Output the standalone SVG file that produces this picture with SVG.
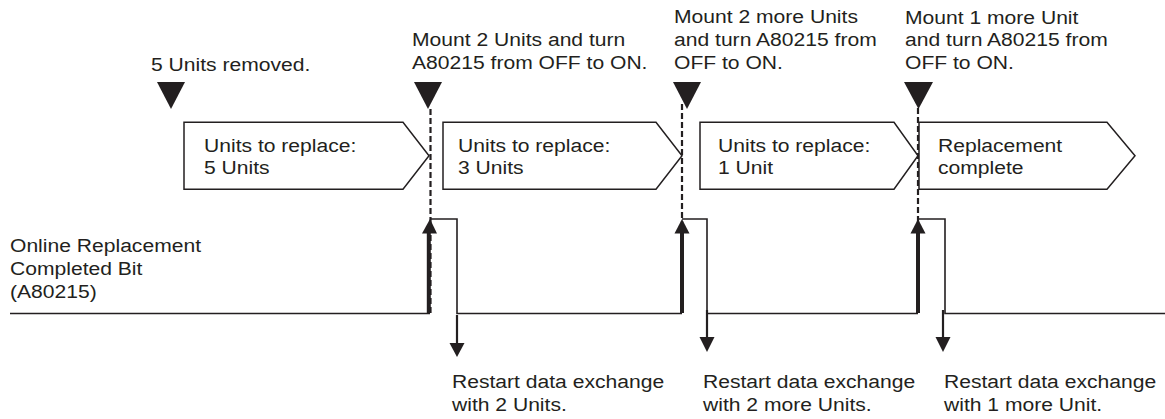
<svg xmlns="http://www.w3.org/2000/svg" width="1165" height="419" viewBox="0 0 1165 419">
<style>
.t{font-family:"Liberation Sans",Arial,sans-serif;font-size:19px;fill:#231f20}
.box{fill:#fff;stroke:#231f20;stroke-width:1.5}
.tri{fill:#231f20}
.dash{fill:none;stroke:#231f20;stroke-width:2.2;stroke-dasharray:6 3}
.sig{fill:none;stroke:#231f20;stroke-width:1.6}
.up{stroke:#231f20;stroke-width:4;fill:none}
.down{stroke:#231f20;stroke-width:2.2;fill:none}
.head{fill:#231f20}
</style>
<rect width="1165" height="419" fill="#fff"/>
<g id="connectors">
  <path class="sig" d="M10,313.5 H430 M430,219 H457 V313.5 H682 M682,219 H707 V313.5 H918 M918,219 H945 V313.5 H1165"/>
  <path class="dash" d="M430.5,109 V313 M682,104 V313 M918,108 V313"/>
  <line class="up" x1="428.8" y1="313" x2="428.8" y2="232"/>
  <polygon class="head" points="430,219 422,233.5 437,233.5"/>
  <line class="up" x1="682" y1="313" x2="682" y2="232"/>
  <polygon class="head" points="682,219 674.5,233.5 689.5,233.5"/>
  <line class="up" x1="918" y1="313" x2="918" y2="232"/>
  <polygon class="head" points="918,219 910.5,233.5 925.5,233.5"/>
  <line class="down" x1="457" y1="315" x2="457" y2="344"/>
  <polygon class="head" points="449.5,343 464.5,343 457,357"/>
  <line class="down" x1="707" y1="310" x2="707" y2="338"/>
  <polygon class="head" points="699.5,337 714.5,337 707,352"/>
  <line class="down" x1="943" y1="310" x2="943" y2="338"/>
  <polygon class="head" points="935.5,337 950.5,337 943,352"/>
</g>
<g id="event-removed">
  <polygon class="tri" points="157,82 185,82 171,109"/>
  <text class="t" transform="translate(151,70.5) scale(1.11,1)">5 Units removed.</text>
</g>
<g id="event-mount2">
  <polygon class="tri" points="414,82 442,82 428,109"/>
  <text class="t" transform="translate(412,46) scale(1.11,1)"><tspan x="0" y="0">Mount 2 Units and turn</tspan><tspan x="0" y="23">A80215 from OFF to ON.</tspan></text>
</g>
<g id="event-mount2more">
  <polygon class="tri" points="673,82 701,82 687,109"/>
  <text class="t" transform="translate(674,23) scale(1.11,1)"><tspan x="0" y="0">Mount 2 more Units</tspan><tspan x="0" y="23">and turn A80215 from</tspan><tspan x="0" y="46">OFF to ON.</tspan></text>
</g>
<g id="event-mount1more">
  <polygon class="tri" points="904,82 933,82 918.5,109"/>
  <text class="t" transform="translate(905,23.5) scale(1.11,1)"><tspan x="0" y="0">Mount 1 more Unit</tspan><tspan x="0" y="23">and turn A80215 from</tspan><tspan x="0" y="46">OFF to ON.</tspan></text>
</g>
<g id="state-5">
  <path class="box" d="M184,122.3 H403 L429,155.7 L403,189.3 H184 Z"/>
  <text class="t" transform="translate(204,151.5) scale(1.11,1)"><tspan x="0" y="0">Units to replace:</tspan><tspan x="0" y="23">5 Units</tspan></text>
</g>
<g id="state-3">
  <path class="box" d="M443,122.3 H656 L682,155.7 L656,189.3 H443 Z"/>
  <text class="t" transform="translate(458,151.5) scale(1.11,1)"><tspan x="0" y="0">Units to replace:</tspan><tspan x="0" y="23">3 Units</tspan></text>
</g>
<g id="state-1">
  <path class="box" d="M700,122.3 H894 L918,155.7 L894,189.3 H700 Z"/>
  <text class="t" transform="translate(718,151.5) scale(1.11,1)"><tspan x="0" y="0">Units to replace:</tspan><tspan x="0" y="23">1 Unit</tspan></text>
</g>
<g id="state-complete">
  <path class="box" d="M919,122.3 H1107 L1135,155.7 L1107,189.3 H919 Z"/>
  <text class="t" transform="translate(938,151.5) scale(1.11,1)"><tspan x="0" y="0">Replacement</tspan><tspan x="0" y="23">complete</tspan></text>
</g>
<g id="signal-label">
  <text class="t" transform="translate(10,252) scale(1.11,1)"><tspan x="0" y="0">Online Replacement</tspan><tspan x="0" y="23">Completed Bit</tspan><tspan x="0" y="46">(A80215)</tspan></text>
</g>
<g id="restart-1">
  <text class="t" transform="translate(452,388) scale(1.11,1)"><tspan x="0" y="0">Restart data exchange</tspan><tspan x="0" y="23">with 2 Units.</tspan></text>
</g>
<g id="restart-2">
  <text class="t" transform="translate(703,388) scale(1.11,1)"><tspan x="0" y="0">Restart data exchange</tspan><tspan x="0" y="23">with 2 more Units.</tspan></text>
</g>
<g id="restart-3">
  <text class="t" transform="translate(944,388) scale(1.11,1)"><tspan x="0" y="0">Restart data exchange</tspan><tspan x="0" y="23">with 1 more Unit.</tspan></text>
</g>
</svg>
